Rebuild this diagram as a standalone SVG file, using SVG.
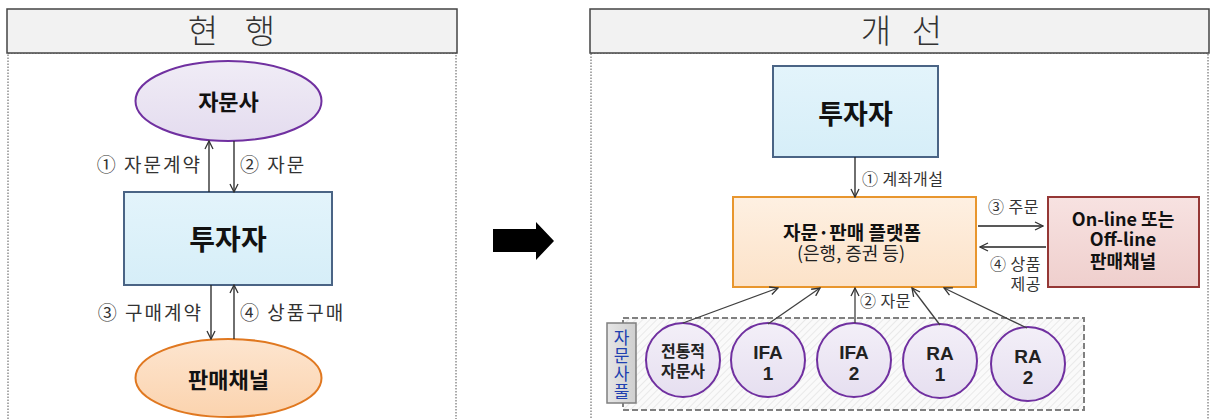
<svg xmlns="http://www.w3.org/2000/svg" width="1210" height="419" viewBox="0 0 1210 419">
<style>
text{font-family:"Noto Sans CJK KR","Noto Sans",sans-serif;}
.hdr{fill:#f2f2f2;stroke:#444;stroke-width:1.5;}
.htxt{font-size:33px;fill:#333;text-anchor:middle;font-weight:300;}
.dot{fill:none;stroke:#555;stroke-width:1;stroke-dasharray:1.5,1.5;}
.blue{fill:url(#gBlue);stroke:#4a6485;stroke-width:2;}
.purple{fill:url(#gPurple);stroke:#7030a0;stroke-width:2;}
.orange{fill:url(#gOrange);stroke:#e07820;stroke-width:2;}
.obox{fill:url(#gOBox);stroke:#e8962e;stroke-width:2;}
.red{fill:url(#gRed);stroke:#953735;stroke-width:2;}
.circ{fill:url(#gCirc);stroke:#7030a0;stroke-width:2;}
.b{font-weight:bold;fill:#111;text-anchor:middle;}
.lbl{font-size:19px;fill:#333;letter-spacing:2px;}
.sl{font-size:16px;fill:#333;letter-spacing:0.5px;}
.ct{font-size:16px;font-weight:bold;fill:#222;text-anchor:middle;}
.ci{font-size:19px;font-weight:bold;fill:#222;text-anchor:middle;font-family:"Liberation Sans",Arial,sans-serif;}
.ln{fill:none;stroke:#222;stroke-width:1.3;marker-end:url(#ah);}
.dl{fill:none;stroke:#404040;stroke-width:1.3;marker-end:url(#ah);}
</style>
<defs>
<marker id="ah" viewBox="0 0 10 10" refX="9" refY="5" markerWidth="10" markerHeight="10" orient="auto" markerUnits="userSpaceOnUse">
<path d="M1,1 L9,5 L1,9" fill="none" stroke="#333" stroke-width="1.3"/>
</marker>
<linearGradient id="gBlue" x1="0" y1="0" x2="0" y2="1"><stop offset="0" stop-color="#e3f4fb"/><stop offset="1" stop-color="#d6eef8"/></linearGradient>
<linearGradient id="gPurple" x1="0" y1="0" x2="0" y2="1"><stop offset="0" stop-color="#f0ecf6"/><stop offset="1" stop-color="#e4dcef"/></linearGradient>
<linearGradient id="gCirc" x1="0" y1="0" x2="0" y2="1"><stop offset="0" stop-color="#f3eff8"/><stop offset="1" stop-color="#e6dff0"/></linearGradient>
<linearGradient id="gOrange" x1="0" y1="0" x2="0" y2="1"><stop offset="0" stop-color="#fde5cf"/><stop offset="1" stop-color="#fbd3ae"/></linearGradient>
<linearGradient id="gOBox" x1="0" y1="0" x2="0" y2="1"><stop offset="0" stop-color="#fef0e2"/><stop offset="1" stop-color="#fce2c8"/></linearGradient>
<linearGradient id="gRed" x1="0" y1="0" x2="0" y2="1"><stop offset="0" stop-color="#f7e2e1"/><stop offset="1" stop-color="#efcfcd"/></linearGradient>
<linearGradient id="gGray" x1="0" y1="0" x2="1" y2="0"><stop offset="0" stop-color="#e6e6e6"/><stop offset="1" stop-color="#cfcfcf"/></linearGradient>
<pattern id="hatch" width="5" height="5" patternUnits="userSpaceOnUse" patternTransform="rotate(45)">
<rect width="5" height="5" fill="#fafafa"/>
<line x1="0" y1="0" x2="0" y2="5" stroke="#dedede" stroke-width="1.2"/>
</pattern>
</defs>

<g id="panel-left">
<rect class="dot" x="8" y="53" width="448" height="380"/>
<rect class="hdr" x="7" y="9" width="450" height="44"/>
<text class="htxt" y="43"><tspan x="203">현</tspan><tspan x="260">행</tspan></text>
</g>
<g id="panel-right">
<rect class="dot" x="591" y="53" width="617" height="380"/>
<rect class="hdr" x="590" y="9" width="619" height="44"/>
<text class="htxt" y="43"><tspan x="876">개</tspan><tspan x="927">선</tspan></text>
</g>

<g id="pool">
<rect x="623" y="318" width="461" height="92" fill="url(#hatch)" stroke="#808080" stroke-width="2" stroke-dasharray="6,3"/>
<rect x="607" y="323" width="29" height="80" fill="url(#gGray)" stroke="#7f7f7f" stroke-width="1.5"/>
<text x="621.5" y="329" font-size="17" fill="#2040b0" writing-mode="tb" letter-spacing="1">자문사풀</text>
</g>

<g id="L-advisor"><ellipse class="purple" cx="228.5" cy="101" rx="93" ry="40"/><text class="b" x="228.5" y="110" font-size="22">자문사</text></g>
<g id="L-investor"><rect class="blue" x="124" y="192" width="208" height="93"/><text class="b" x="228" y="250" font-size="28">투자자</text></g>
<g id="L-channel"><ellipse class="orange" cx="228.5" cy="378" rx="93" ry="39"/><text class="b" x="228.5" y="388" font-size="22">판매채널</text></g>

<g id="R-investor"><rect class="blue" x="773" y="66" width="165" height="91"/><text class="b" x="855.5" y="124" font-size="27">투자자</text></g>
<g id="R-platform"><rect class="obox" x="733" y="197" width="243" height="90"/>
<text text-anchor="middle"><tspan class="b" x="852" y="240" font-size="19">자문·판매 플랫폼</tspan><tspan x="851" y="260" font-size="18" fill="#222">(은행, 증권 등)</tspan></text></g>
<g id="R-channel"><rect class="red" x="1048" y="197" width="151" height="90"/>
<text class="b" font-size="18"><tspan x="1123" y="226">On-line 또는</tspan><tspan x="1123" y="246">Off-line</tspan><tspan x="1123" y="268">판매채널</tspan></text></g>

<g id="c1"><circle class="circ" cx="683" cy="360" r="37"/><text class="ct"><tspan x="683" y="357">전통적</tspan><tspan x="683" y="377">자문사</tspan></text></g>
<g id="c2"><circle class="circ" cx="768" cy="360" r="37"/><text class="ci"><tspan x="768" y="359">IFA</tspan><tspan x="768" y="380">1</tspan></text></g>
<g id="c3"><circle class="circ" cx="854" cy="360" r="37"/><text class="ci"><tspan x="854" y="359">IFA</tspan><tspan x="854" y="380">2</tspan></text></g>
<g id="c4"><circle class="circ" cx="940" cy="361" r="37"/><text class="ci"><tspan x="940" y="360">RA</tspan><tspan x="940" y="381">1</tspan></text></g>
<g id="c5"><circle class="circ" cx="1028" cy="364" r="37"/><text class="ci"><tspan x="1028" y="363">RA</tspan><tspan x="1028" y="384">2</tspan></text></g>

<g id="connectors">
<line class="ln" x1="209" y1="192" x2="209" y2="141"/>
<line class="ln" x1="234" y1="141" x2="234" y2="192"/>
<line class="ln" x1="211" y1="285" x2="211" y2="339"/>
<line class="ln" x1="234" y1="339" x2="234" y2="285"/>
<text class="lbl" x="202" y="172" text-anchor="end">① 자문계약</text>
<text class="lbl" x="240" y="172">② 자문</text>
<text class="lbl" x="203" y="320" text-anchor="end">③ 구매계약</text>
<text class="lbl" x="240" y="320">④ 상품구매</text>

<polygon points="493,229 536,229 536,222 554,241 536,260 536,252 493,252" fill="#000"/>

<line class="ln" x1="855" y1="157" x2="855" y2="197"/>
<text class="sl" x="862" y="185">① 계좌개설</text>
<line class="ln" x1="978" y1="226" x2="1043" y2="226"/>
<text class="sl" x="988" y="213">③ 주문</text>
<line class="ln" x1="1046" y1="247" x2="980" y2="247"/>
<text class="sl" text-anchor="end"><tspan x="1041" y="270">④ 상품</tspan><tspan x="1041" y="290">제공</tspan></text>

<line class="dl" x1="683" y1="323" x2="778" y2="288"/>
<line class="dl" x1="768" y1="324" x2="820" y2="288"/>
<line class="dl" x1="855" y1="323" x2="855" y2="288"/>
<line class="dl" x1="940" y1="325" x2="912" y2="288"/>
<line class="dl" x1="1027" y1="328" x2="944" y2="288"/>
<text class="sl" x="860" y="307">② 자문</text>
</g>
</svg>
